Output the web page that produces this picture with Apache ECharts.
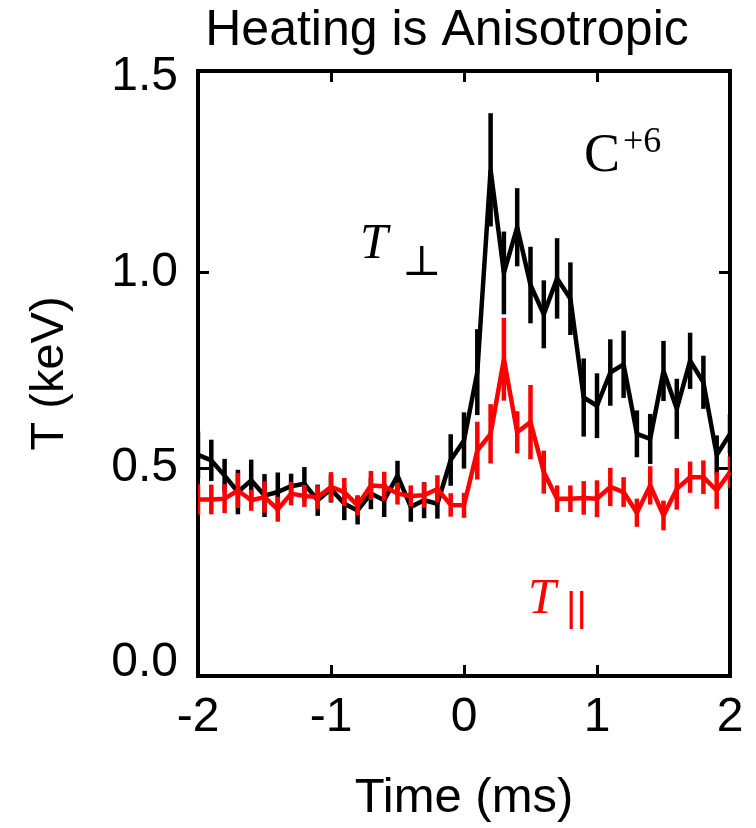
<!DOCTYPE html>
<html>
<head>
<meta charset="utf-8">
<script src="https://cdn.jsdelivr.net/npm/echarts@6/dist/echarts.min.js"></script>
<style>
html,body{margin:0;padding:0;background:#fff;}
#c{width:756px;height:828px;}
</style>
</head>
<body>
<div id="c"></div>
<script>
// ---- data ----
var times = [-2.0,-1.9,-1.8,-1.7,-1.6,-1.5,-1.4,-1.3,-1.2,-1.1,-1.0,-0.9,-0.8,-0.7,-0.6,-0.5,-0.4,-0.3,-0.2,-0.1,
             0.0,0.1,0.2,0.3,0.4,0.5,0.6,0.7,0.8,0.9,1.0,1.1,1.2,1.3,1.4,1.5,1.6,1.7,1.8,1.9,2.0];
var tPerp = [0.533,0.519,0.480,0.438,0.468,0.429,0.438,0.453,0.459,0.417,0.446,0.408,0.391,0.434,0.417,0.480,0.400,0.417,0.408,0.520,
             0.570,0.745,1.263,0.999,1.116,0.968,0.893,0.985,0.933,0.680,0.659,0.744,0.765,0.587,0.574,0.748,0.651,0.774,0.719,0.533,0.587];
var tPerpErr = [0.060,0.053,0.043,0.057,0.053,0.055,0.050,0.032,0.043,0.040,0.035,0.042,0.036,0.040,0.043,0.038,0.038,0.046,0.038,0.066,
                0.072,0.110,0.145,0.106,0.100,0.098,0.087,0.103,0.093,0.100,0.083,0.085,0.086,0.060,0.064,0.077,0.077,0.072,0.068,0.050,0.050];
var tPar = [0.419,0.419,0.421,0.442,0.417,0.425,0.394,0.434,0.428,0.425,0.451,0.438,0.404,0.455,0.453,0.434,0.428,0.430,0.446,0.405,
            0.404,0.544,0.587,0.778,0.591,0.617,0.489,0.421,0.421,0.423,0.421,0.451,0.438,0.385,0.455,0.378,0.446,0.476,0.476,0.442,0.489];
var tParErr = [0.039,0.038,0.037,0.045,0.027,0.040,0.032,0.030,0.028,0.030,0.038,0.036,0.026,0.037,0.037,0.028,0.027,0.032,0.035,0.030,
               0.032,0.074,0.076,0.106,0.054,0.095,0.055,0.034,0.034,0.043,0.047,0.049,0.038,0.036,0.049,0.038,0.053,0.040,0.043,0.047,0.040];
var yLabelValues = [0, 0.5, 1.0, 1.5];
var yTickValues = [0.5, 1.0];

var SANS = '"Liberation Sans", Arial, Helvetica, sans-serif';
var SERIF = '"Liberation Serif", "DejaVu Serif", serif';
var RED = '#ff0000';

function linePts(v){ return times.map(function(t,i){ return [t, v[i]]; }); }
function errPts(v,e){ return times.map(function(t,i){ return [t, v[i]-e[i], v[i]+e[i]]; }); }
function errRender(color){
  return function(params, api){
    var p1 = api.coord([api.value(0), api.value(1)]);
    var p2 = api.coord([api.value(0), api.value(2)]);
    return {type:'line', shape:{x1:p1[0], y1:p1[1], x2:p2[0], y2:p2[1]},
            style:{stroke:color, lineWidth:4.5}};
  };
}

var chart = echarts.init(document.getElementById('c'), null, {renderer:'canvas'});
function ticks(custom){
  var t = {show:true, inside:true, length:11, lineStyle:{color:'#000', width:3}};
  if (custom) t.customValues = custom;
  return t;
}
var noLine = {show:false, onZero:false};
var option = {
  animation:false,
  backgroundColor:'#fff',
  grid:{left:198, right:26, top:71, bottom:150, show:true, borderColor:'#000', borderWidth:4, backgroundColor:'transparent'},
  xAxis:[
    {type:'value', min:-2, max:2, interval:1, position:'bottom',
     axisLine:noLine, splitLine:{show:false}, axisTick:ticks(),
     axisLabel:{fontFamily:SANS, fontSize:48, color:'#000', margin:18},
     name:'Time (ms)', nameLocation:'middle', nameGap:98,
     nameTextStyle:{fontFamily:SANS, fontSize:49, color:'#000'}},
    {type:'value', min:-2, max:2, interval:1, position:'top',
     axisLine:noLine, splitLine:{show:false}, axisTick:ticks(), axisLabel:{show:false}}
  ],
  yAxis:[
    {type:'value', min:-0.033, max:1.516, position:'left',
     axisLine:noLine, splitLine:{show:false},
     axisTick:ticks(yTickValues),
     axisLabel:{customValues:yLabelValues, fontFamily:SANS, fontSize:48, color:'#000', margin:20,
                formatter:function(v){ return v.toFixed(1); }},
     name:'T (keV)', nameLocation:'middle', nameGap:124, nameRotate:90,
     nameTextStyle:{fontFamily:SANS, fontSize:47, color:'#000'}},
    {type:'value', min:-0.033, max:1.516, position:'right',
     axisLine:noLine, splitLine:{show:false},
     axisTick:ticks(yTickValues), axisLabel:{show:false}}
  ],
  series:[
    {type:'custom', name:'perpErr', xAxisIndex:0, yAxisIndex:0, clip:true, z:2,
     renderItem:errRender('#000'), data:errPts(tPerp,tPerpErr)},
    {type:'line', name:'Tperp', xAxisIndex:0, yAxisIndex:0, showSymbol:false, z:3,
     lineStyle:{color:'#000', width:4.5}, itemStyle:{color:'#000'}, data:linePts(tPerp)},
    {type:'custom', name:'parErr', xAxisIndex:0, yAxisIndex:0, clip:true, z:4,
     renderItem:errRender(RED), data:errPts(tPar,tParErr)},
    {type:'line', name:'Tpar', xAxisIndex:0, yAxisIndex:0, showSymbol:false, z:5,
     lineStyle:{color:RED, width:4.5}, itemStyle:{color:RED}, data:linePts(tPar)}
  ],
  graphic:[
    {type:'text', x:447, y:31, style:{text:'Heating is Anisotropic', font:'50px '+SANS, fill:'#000',
      align:'center', verticalAlign:'middle', textAlign:'center', textVerticalAlign:'middle'}},
    {type:'text', x:584, y:157, style:{text:'C', font:'54px '+SERIF, fill:'#000',
      align:'left', verticalAlign:'middle', textAlign:'left', textVerticalAlign:'middle'}},
    {type:'text', x:623, y:143, style:{text:'+6', font:'36px '+SERIF, fill:'#000',
      align:'left', verticalAlign:'middle', textAlign:'left', textVerticalAlign:'middle'}},
    {type:'text', x:360, y:245, style:{text:'T', font:'italic 50px '+SERIF, fill:'#000',
      align:'left', verticalAlign:'middle', textAlign:'left', textVerticalAlign:'middle'}},
    {type:'text', x:402, y:264, style:{text:'\u22A5', font:'42px '+SERIF, fill:'#000',
      align:'left', verticalAlign:'middle', textAlign:'left', textVerticalAlign:'middle'}},
    {type:'text', x:528, y:600, style:{text:'T', font:'italic 50px '+SERIF, fill:RED,
      align:'left', verticalAlign:'middle', textAlign:'left', textVerticalAlign:'middle'}},
    {type:'text', x:566, y:610, style:{text:'||', font:'40px '+SANS, fill:RED,
      align:'left', verticalAlign:'middle', textAlign:'left', textVerticalAlign:'middle'}}
  ]
};
chart.setOption(option);
</script>
</body>
</html>
